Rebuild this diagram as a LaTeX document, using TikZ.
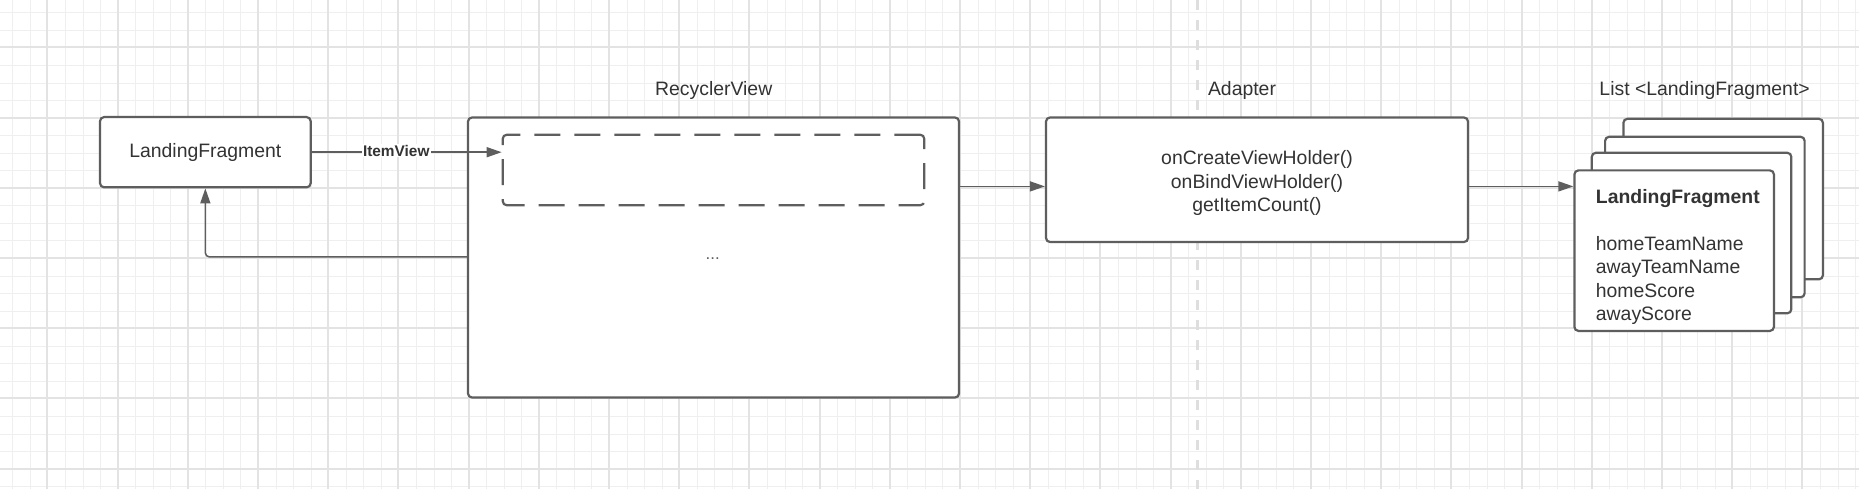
\documentclass[tikz,border=0pt]{standalone}
\usepackage{fontspec}
\setmainfont{Liberation Sans}
\usepackage{xcolor}
\definecolor{sketch-line}{HTML}{5E5E5E}
\definecolor{sketch-text}{HTML}{333333}
\definecolor{grid-minor}{HTML}{EFEFEF}
\definecolor{grid-major}{HTML}{E3E3E3}
\definecolor{divider-gray}{HTML}{DEDEDE}
\usepackage{tikz}
\usetikzlibrary{arrows.meta}

\tikzset{
    box/.style={draw=sketch-line, line width=2.2pt, rounded corners=4pt, fill=white,
                text=sketch-text, inner sep=0pt},
    cardbox/.style={box, anchor=north west, minimum width=199.5pt, minimum height=160.5pt},
    link/.style={draw=sketch-line, line width=1.5pt, -{Triangle[length=15pt, width=10pt]}},
    heading/.style={text=sketch-text, inner sep=0pt}
}

\begin{document}
\begin{tikzpicture}[x=1pt, y=-1pt, font=\fontsize{19.4pt}{23.5pt}\selectfont]

    % Background
    \useasboundingbox (0, 0) rectangle (1859, 489);
    \fill[white] (0, 0) rectangle (1859, 489);

    % Grid
    \foreach \k in {-2,...,104}
        \draw[grid-minor, line width=1pt] ({round(47.4+17.55*\k)+0.5}, 0) -- ++(0, 489);
    \foreach \k in {-2,...,25}
        \draw[grid-minor, line width=1pt] (0, {round(47.4+17.55*\k)+0.5}) -- ++(1859, 0);
    \foreach \k in {0,...,26}
        \draw[grid-major, line width=2pt] ({round(47.4+70.2*\k)}, 0) -- ++(0, 489);
    \foreach \k in {0,...,6}
        \draw[grid-major, line width=2pt] (0, {round(47.4+70.2*\k)}) -- ++(1859, 0);

    % Divider
    \draw[divider-gray, line width=3pt, dash pattern=on 10pt off 10pt] (1197.5, 0) -- (1197.5, 489);

    % Fragment
    \node[box, minimum width=210.6pt, minimum height=70.2pt] (fragment) at (205.35, 152.2) {LandingFragment};

    % RecyclerView
    \node[heading] (rvtitle) at (713.7, 90) {RecyclerView};
    \node[box, minimum width=491pt, minimum height=280pt] (rv) at (713.5, 257.5) {};
    \node[box, dash pattern=on 26pt off 14pt, minimum width=421.5pt, minimum height=70.5pt]
        (cell) at (713.5, 170) {};
    \node[heading, text=sketch-line, font=\fontsize{16.8pt}{20pt}\selectfont] (dots) at (712.7, 259) {...};

    % Adapter
    \node[heading] (adaptertitle) at (1242, 90) {Adapter};
    \node[box, minimum width=422pt, minimum height=124.5pt] (adapter) at (1257, 179.75) {};
    \node[heading, align=center] (methods) at (1257, 183)
        {onCreateViewHolder()\\onBindViewHolder()\\getItemCount()};

    % List of fragments
    \node[heading] (listtitle) at (1704.6, 90) {List <LandingFragment>};
    \foreach \i/\x/\y in {4/1622.3/117.7, 3/1604/135.7, 2/1590.7/151.7, 1/1573.3/169.3}
        \node[cardbox] (card\i) at (\x, \y) {};
    \node[heading, anchor=north west, align=left] (fields) at (1595.7, 188.8)
        {\textbf{LandingFragment}\\[23.5pt]homeTeamName\\awayTeamName\\homeScore\\awayScore};

    % Connectors
    \draw[link] (fragment.east) -- (fragment.east -| cell.west)
        node[pos=0.445, yshift=1.5pt, fill=white, inner sep=1pt, text=sketch-text,
             font=\fontsize{15.4pt}{18pt}\selectfont\bfseries] {ItemView};
    \draw[link, rounded corners=4pt] ([yshift=-140.5pt]rv.north west) -| (fragment.south);
    \draw[link] ([yshift=-70pt]rv.north east) -- ([yshift=-70pt]adapter.north west);
    \draw[link] ([yshift=-70pt]adapter.north east) -- ([yshift=-70pt]adapter.north east -| card1.west);

\end{tikzpicture}
\end{document}
